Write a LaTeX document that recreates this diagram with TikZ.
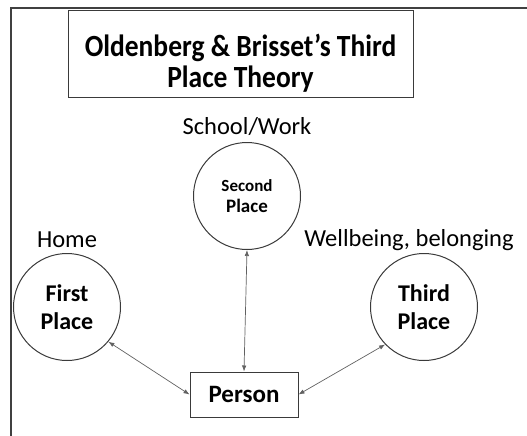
\documentclass[tikz,border=0pt]{standalone}
\usepackage{fontspec}
\usepackage{graphicx}
\setmainfont{Carlito}
\usetikzlibrary{arrows.meta}
\definecolor{linegray}{HTML}{3A3A3A}
\definecolor{framegray}{HTML}{404040}
\begin{document}
\begin{tikzpicture}[x=1pt,y=-1pt,
  placecircle/.style={circle,draw=linegray,line width=1pt,minimum size=107pt,inner sep=0pt,align=center,font=\bfseries\fontsize{19}{21}\selectfont},
  boxnode/.style={draw=linegray,line width=1pt,inner sep=0pt,align=center},
  label text/.style={font=\fontsize{24.5}{26}\selectfont},
  link/.style={draw=linegray!80,line width=0.7pt,{Latex[length=6pt,width=4.5pt]}-{Latex[length=6pt,width=4.5pt]}}]
  \useasboundingbox (0,0) rectangle (527,436);
  % page frame: top and left rules
  \draw[framegray,line width=2pt] (527,8.5) -- (11,8.5) -- (11,436);
  % title, set slightly tall and a little below the box centre
  \node[boxnode,minimum width=345pt,minimum height=86pt] (title) at (240.5,54)
    {\raisebox{-11pt}[\height][\depth]{\scalebox{1}[1.12]{\bfseries\fontsize{27.5}{26.5}\selectfont
      \begin{tabular}{@{}c@{}}Oldenberg \& Brisset’s Third\\Place Theory\end{tabular}}}};
  % the three places
  \node[placecircle] (second) at (247,196) {\fontsize{17}{21}\selectfont Second\\Place};
  \node[placecircle,font=\bfseries\fontsize{24}{28}\selectfont] (first) at (67,307) {First\\Place};
  \node[placecircle,font=\bfseries\fontsize{24}{28}\selectfont] (third) at (424,307) {Third\\Place};
  % captions above the circles
  \node[label text] (work) at (247,127) {School/Work};
  \node[label text] (home) at (67,240) {Home};
  \node[label text] (well) at (409,240) {Wellbeing, belonging};
  % the person at the centre
  \node[boxnode,minimum width=108pt,minimum height=45pt,font=\bfseries\fontsize{25}{27}\selectfont] (person) at (244,394.5) {Person};
  % two-way links
  \draw[link] (second.south) -- (person.north);
  \draw[link] (first.-40) -- (person.west);
  \draw[link] (third.-136) -- (person.east);
\end{tikzpicture}
\end{document}
